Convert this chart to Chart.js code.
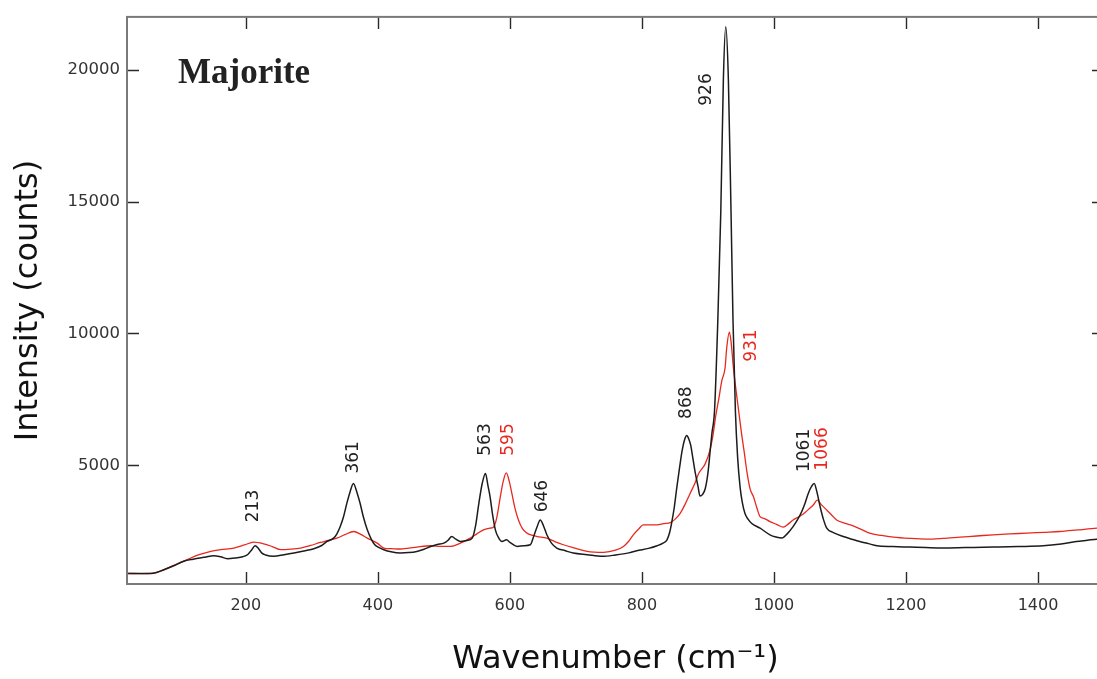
<!DOCTYPE html>
<html>
<head>
<meta charset="utf-8">
<script src="https://cdn.jsdelivr.net/npm/chart.js@4.4.1/dist/chart.umd.min.js"></script>
<style>
  html, body { margin: 0; padding: 0; background: #fff; overflow: hidden; }
  #wrap { width: 1120px; height: 679px; }
</style>
</head>
<body>
<div id="wrap"><canvas id="ramanChart" width="1120" height="679"></canvas></div>
<script>
// black spectrum (wavenumber, counts)
const wnBlack = [20, 40, 60, 76, 90, 106, 120, 136, 152, 162, 172, 185, 195, 203, 209, 214, 219, 224, 230, 242,
  258, 273, 290, 303, 315, 323, 333, 338, 343, 348, 353, 358, 363, 368, 373, 378, 384, 390, 395, 402,
  409, 420, 434, 447, 459, 470, 480, 490, 500, 506, 512, 518, 525, 535, 543, 548, 553, 558, 563, 567,
  570, 574, 578, 583, 588, 595, 600, 611, 621, 631, 636, 641, 646, 651, 656, 663, 671, 684, 696, 717,
  740, 760, 780, 792, 810, 823, 832, 838, 842, 845, 849, 853, 857, 861, 865, 868, 871, 874, 877, 881,
  885, 888, 892, 896, 900, 903, 906, 910, 915, 919.5, 923.4, 927, 931, 935, 938, 941.6, 945, 948.7, 952, 956,
  961, 966, 979, 994, 1003, 1012, 1020, 1029, 1036, 1042, 1047, 1052, 1057, 1061, 1065, 1070, 1075, 1080, 1090, 1105,
  1118, 1130, 1143, 1156, 1180, 1206, 1230, 1256, 1290, 1332, 1370, 1408, 1435, 1458, 1475, 1489, 1500];
const intBlack = [900, 896, 910, 1040, 1180, 1360, 1440, 1510, 1574, 1530, 1461, 1490, 1530, 1620, 1800, 1950, 1850, 1680, 1600, 1550,
  1610, 1675, 1760, 1837, 1960, 2112, 2240, 2400, 2677, 3050, 3558, 4000, 4310, 4000, 3570, 3050, 2553, 2200, 2000, 1880,
  1800, 1720, 1675, 1690, 1736, 1820, 1924, 2000, 2050, 2150, 2300, 2200, 2112, 2150, 2240, 2700, 3558, 4300, 4690, 4200,
  3807, 3100, 2553, 2250, 2112, 2176, 2080, 1924, 1950, 1988, 2300, 2650, 2929, 2700, 2365, 2050, 1864, 1760, 1675, 1612,
  1548, 1600, 1680, 1762, 1850, 1950, 2050, 2176, 2450, 2805, 3400, 4183, 4900, 5565, 6000, 6130, 6000, 5753, 5300, 4690,
  4200, 3833, 3900, 4122, 4700, 5440, 6200, 7070, 10500, 14600, 19620, 21630, 19620, 14600, 10500, 7070, 5300, 4183, 3600, 3180,
  2950, 2805, 2616, 2365, 2280, 2240, 2400, 2677, 2950, 3241, 3550, 3934, 4200, 4310, 4000, 3430, 2950, 2616, 2450, 2300,
  2200, 2112, 2030, 1950, 1920, 1900, 1880, 1864, 1880, 1900, 1920, 1950, 2020, 2112, 2160, 2200, 2220];

// red spectrum (wavenumber, counts)
const wnRed = [20, 40, 60, 76, 95, 111, 128, 147, 162, 182, 198, 212, 227, 240, 253, 268, 283, 298, 313, 325,
  338, 350, 363.5, 374, 384, 389, 399, 409, 420, 434, 447, 459, 480, 495, 510, 525, 540, 550, 560, 570,
  575, 580, 585.5, 590, 594.6, 599, 603, 608, 613, 619, 626, 633, 641, 656, 668, 681, 700, 717, 742, 760,
  772, 780, 787, 795, 802, 812, 823, 833, 843, 850, 858, 865, 873, 880, 886, 893, 896, 903, 908, 912,
  916, 921, 926, 928.5, 932.5, 935, 938.6, 944.6, 951, 955, 958.8, 964, 969, 974, 979, 985, 994, 1004, 1014, 1022,
  1029, 1037, 1044.5, 1052, 1059.6, 1065.7, 1072, 1080, 1088, 1095, 1107, 1120, 1133, 1145, 1163, 1181, 1205, 1231, 1256, 1282,
  1307, 1332, 1357, 1383, 1408, 1433, 1460, 1489, 1500];
const intRed = [900, 896, 915, 1047, 1250, 1423, 1600, 1736, 1800, 1864, 1980, 2090, 2025, 1920, 1800, 1820, 1864, 1960, 2075, 2150,
  2240, 2370, 2490, 2380, 2240, 2176, 2050, 1864, 1840, 1826, 1860, 1900, 1950, 1930, 1924, 2050, 2240, 2400, 2553, 2620,
  2654, 3000, 3807, 4400, 4710, 4400, 3934, 3350, 2929, 2600, 2428, 2350, 2300, 2240, 2110, 1988, 1850, 1736, 1700, 1780,
  1924, 2120, 2365, 2580, 2741, 2740, 2741, 2790, 2828, 2950, 3180, 3500, 3934, 4300, 4690, 4937, 5064, 5565, 6194, 6900,
  7448, 8200, 8700, 9455, 10046, 9700, 8700, 7448, 6194, 5500, 4800, 4100, 3807, 3400, 3054, 2990, 2866, 2760, 2654, 2780,
  2929, 3040, 3155, 3320, 3494, 3682, 3500, 3306, 3100, 2929, 2810, 2703, 2560, 2428, 2340, 2277, 2230, 2202, 2230, 2277,
  2320, 2365, 2400, 2428, 2460, 2490, 2550, 2616, 2630];

const xTicks = [200, 400, 600, 800, 1000, 1200, 1400];
const yTicks = [5000, 10000, 15000, 20000];

// peak annotations: text, wavenumber at label centre, counts at label centre
const peakText  = ['213', '361', '563', '595', '646', '868', '926', '931', '1061', '1066'];
const peakWave  = [211.7, 362.6, 562.8, 597.6, 650.1, 868, 898.3, 966.4, 1047, 1073.9];
const peakLevel = [3456, 5301, 5979, 5979, 3833, 7373, 19247, 9538, 5565, 5621];
const peakRed   = [false, false, false, true, false, false, false, true, false, true];

const BLACK = '#1c1c1c';
const RED = '#e8281e';

const toPoints = (xs, ys) => xs.map((x, i) => ({ x: x, y: ys[i] }));

// frame + inward ticks on all four sides
const frameTicks = {
  id: 'frameTicks',
  afterDraw(chart) {
    const { ctx, chartArea: a, scales: { x, y } } = chart;
    const len = 12;
    ctx.save();
    ctx.strokeStyle = '#2a2a2a';
    ctx.lineWidth = 1.4;
    ctx.beginPath();
    xTicks.forEach(v => {
      const px = Math.round(x.getPixelForValue(v)) + 0.5;
      ctx.moveTo(px, a.bottom); ctx.lineTo(px, a.bottom - len);
      ctx.moveTo(px, a.top); ctx.lineTo(px, a.top + len);
    });
    yTicks.forEach(v => {
      const py = Math.round(y.getPixelForValue(v)) + 0.5;
      ctx.moveTo(a.left, py); ctx.lineTo(a.left + len, py);
      ctx.moveTo(a.right, py); ctx.lineTo(a.right - len, py);
    });
    ctx.stroke();
    ctx.strokeStyle = '#7a7a7a';
    ctx.lineWidth = 2;
    ctx.strokeRect(a.left, a.top, a.right - a.left, a.bottom - a.top);
    ctx.restore();
  }
};

const peakLabels = {
  id: 'peakLabels',
  afterDatasetsDraw(chart) {
    const { ctx, scales: { x, y }, chartArea: a } = chart;
    ctx.save();
    ctx.font = '17px "DejaVu Sans"';
    ctx.textAlign = 'center';
    ctx.textBaseline = 'middle';
    peakText.forEach((t, i) => {
      ctx.save();
      ctx.translate(x.getPixelForValue(peakWave[i]), y.getPixelForValue(peakLevel[i]));
      ctx.rotate(-Math.PI / 2);
      ctx.fillStyle = peakRed[i] ? RED : '#222';
      ctx.fillText(t, 0, 0);
      ctx.restore();
    });
    // sample name
    ctx.font = 'bold 35px "Liberation Serif"';
    ctx.textAlign = 'left';
    ctx.textBaseline = 'alphabetic';
    ctx.fillStyle = '#222';
    ctx.fillText('Majorite', a.left + 51, a.top + 66);
    ctx.restore();
  }
};

const ctx = document.getElementById('ramanChart').getContext('2d');
new Chart(ctx, {
  type: 'line',
  data: {
    datasets: [
      { data: toPoints(wnBlack, intBlack), borderColor: BLACK, borderWidth: 1.5, pointRadius: 0, cubicInterpolationMode: 'monotone' },
      { data: toPoints(wnRed, intRed), borderColor: RED, borderWidth: 1.3, pointRadius: 0, cubicInterpolationMode: 'monotone' }
    ]
  },
  options: {
    responsive: false,
    animation: false,
    layout: { padding: { top: 14, right: 16, bottom: 0, left: 0 } },
    plugins: { legend: { display: false }, tooltip: { enabled: false } },
    scales: {
      x: {
        type: 'linear',
        min: 20,
        max: 1500,
        afterBuildTicks: s => { s.ticks = xTicks.map(v => ({ value: v })); },
        afterFit: s => { s.height = 95; },
        grid: { display: false, drawTicks: false },
        border: { display: false },
        ticks: { color: '#333', font: { family: 'DejaVu Sans', size: 16 }, padding: 12, maxRotation: 0, callback: v => String(v) },
        title: { display: true, text: 'Wavenumber (cm⁻¹)', color: '#111', font: { family: 'DejaVu Sans', size: 32 }, padding: { top: 0, bottom: 0 } }
      },
      y: {
        min: 500,
        max: 22000,
        afterBuildTicks: s => { s.ticks = yTicks.map(v => ({ value: v })); },
        afterFit: s => { s.width = 127; },
        grid: { display: false, drawTicks: false },
        border: { display: false },
        ticks: { color: '#333', font: { family: 'DejaVu Sans', size: 16.5 }, padding: 7, callback: v => String(v) },
        title: { display: true, text: 'Intensity (counts)', color: '#111', font: { family: 'DejaVu Sans', size: 32 }, padding: { top: 9, bottom: 0 } }
      }
    }
  },
  plugins: [frameTicks, peakLabels]
});
</script>
</body>
</html>
